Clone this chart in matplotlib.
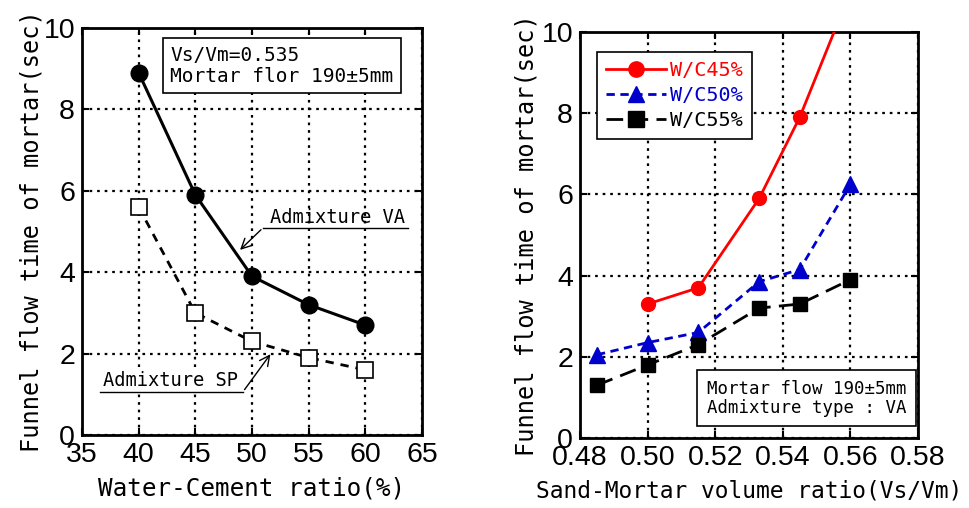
import matplotlib
matplotlib.use("Agg")
import matplotlib.pyplot as plt
from matplotlib.ticker import FormatStrFormatter

# ---- data ----
wc_ratio = [40, 45, 50, 55, 60]
va_time = [8.9, 5.9, 3.9, 3.2, 2.7]
sp_time = [5.6, 3.0, 2.3, 1.9, 1.6]

vs_wc45 = [0.50, 0.515, 0.533, 0.545, 0.56]
t_wc45 = [3.3, 3.7, 5.9, 7.9, 11.0]
vs_wc50 = [0.485, 0.50, 0.515, 0.533, 0.545, 0.56]
t_wc50 = [2.05, 2.35, 2.6, 3.85, 4.15, 6.25]
vs_wc55 = [0.485, 0.50, 0.515, 0.533, 0.545, 0.56]
t_wc55 = [1.3, 1.8, 2.3, 3.2, 3.3, 3.9]

left_xticks = [35, 40, 45, 50, 55, 60, 65]
right_xticks = [0.48, 0.50, 0.52, 0.54, 0.56, 0.58]
yticks = [0, 2, 4, 6, 8, 10]

MONO = "DejaVu Sans Mono"
TICKF = "Liberation Sans"

fig = plt.figure(figsize=(9.69, 5.08), dpi=100)
axL = fig.add_axes([0.0846, 0.1437, 0.3509, 0.8013])
axR = fig.add_axes([0.5986, 0.1378, 0.3488, 0.7992])


def style(ax):
    ax.grid(True, color="black", linestyle=(0, (1.2, 2.2)), linewidth=1.6)
    ax.set_axisbelow(True)
    for s in ax.spines.values():
        s.set_linewidth(2.0)
        s.set_color("black")
    ax.tick_params(direction="in", length=5, width=1.5, top=True, right=True,
                   labelsize=20.5, pad=5)
    for lab in ax.get_xticklabels() + ax.get_yticklabels():
        lab.set_fontfamily(TICKF)


# ---- left chart ----
axL.plot(wc_ratio, va_time, color="black", lw=2.2, marker="o", ms=12,
         mfc="black", mec="black", zorder=3)
axL.plot(wc_ratio, sp_time, color="black", lw=2.0, ls=(0, (3, 2.5)), marker="s",
         ms=11, mfc="white", mec="black", mew=1.2, zorder=3)
axL.set_xlim(35, 65)
axL.set_ylim(0, 10)
axL.set_xticks(left_xticks)
axL.set_yticks(yticks)
style(axL)
axL.set_xlabel("Water-Cement ratio(%)", fontsize=17.5, family=MONO, labelpad=6)
axL.set_ylabel("Funnel flow time of mortar(sec)", fontsize=17, family=MONO, labelpad=0)

axL.text(42.8, 9.07, "Vs/Vm=0.535\nMortar flor 190\u00b15mm", fontsize=14, family=MONO,
         va="center", ha="left", linespacing=1.1,
         bbox=dict(boxstyle="square,pad=0.4", fc="white", ec="black", lw=1.2), zorder=5)

# Admixture VA annotation
axL.text(51.6, 5.12, "Admixture VA", fontsize=13.5, family=MONO, va="bottom", ha="left")
axL.plot([50.97, 63.8], [5.09, 5.09], color="black", lw=1.0)
axL.annotate("", xy=(48.77, 4.50), xytext=(50.97, 5.09),
             arrowprops=dict(arrowstyle="->", color="black", lw=1.0, mutation_scale=18))
# Admixture SP annotation
axL.text(36.85, 1.10, "Admixture SP", fontsize=13.5, family=MONO, va="bottom", ha="left",
         bbox=dict(boxstyle="square,pad=0.05", fc="white", ec="none"))
axL.plot([36.6, 49.2], [1.06, 1.06], color="black", lw=1.0)
axL.annotate("", xy=(51.77, 2.04), xytext=(49.2, 1.06),
             arrowprops=dict(arrowstyle="->", color="black", lw=1.0, mutation_scale=18))

# ---- right chart ----
axR.plot(vs_wc45, t_wc45, color="red", lw=2.0, marker="o", ms=10,
         mfc="red", mec="red", label="W/C45%", zorder=3)
axR.plot(vs_wc50, t_wc50, color="#0000cc", lw=2.0, ls=(0, (3, 2)), marker="^", ms=11,
         mfc="#0000cc", mec="#0000cc", label="W/C50%", zorder=3)
axR.plot(vs_wc55, t_wc55, color="black", lw=2.0, ls=(0, (6, 3)), marker="s", ms=10,
         mfc="black", mec="black", label="W/C55%", zorder=3)
axR.set_xlim(0.48, 0.58)
axR.set_ylim(0, 10)
axR.set_xticks(right_xticks)
axR.set_yticks(yticks)
axR.xaxis.set_major_formatter(FormatStrFormatter("%.2f"))
style(axR)
axR.set_xlabel("Sand-Mortar volume ratio(Vs/Vm)", fontsize=16.5, family=MONO, labelpad=6)
axR.set_ylabel("Funnel flow time of mortar(sec)", fontsize=17, family=MONO, labelpad=2)

leg = axR.legend(loc="upper left", bbox_to_anchor=(0.02, 0.975), fancybox=False,
                 edgecolor="black", framealpha=1, prop=dict(family=MONO, size=14.5),
                 handlelength=3.0, handletextpad=0.2, labelcolor="linecolor",
                 borderpad=0.45, labelspacing=0.3, markerscale=1.1)
leg.get_frame().set_linewidth(1.2)

axR.text(0.5175, 0.98, "Mortar flow 190\u00b15mm\nAdmixture type : VA", fontsize=12.5,
         family=MONO, va="center", ha="left", linespacing=1.1,
         bbox=dict(boxstyle="square,pad=0.55", fc="white", ec="black", lw=1.2), zorder=5)

fig.savefig("out.png", dpi=100)
